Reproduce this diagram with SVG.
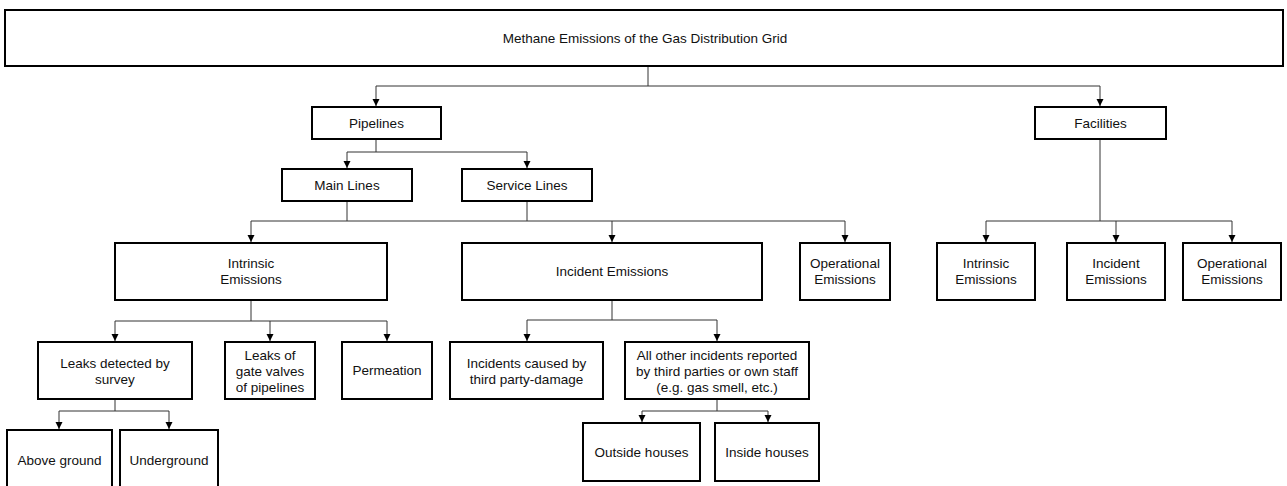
<svg xmlns="http://www.w3.org/2000/svg" width="1287" height="486" viewBox="0 0 1287 486">
<style>
.box{fill:#fff;stroke:#000;stroke-width:2}
.t{font-family:"Liberation Sans",Arial,sans-serif;font-size:13.5px;fill:#111;text-anchor:middle}
.c{fill:none;stroke:#333;stroke-width:1}
.a{fill:none;stroke:#333;stroke-width:1;marker-end:url(#arr)}
</style>
<defs>
<marker id="arr" markerUnits="userSpaceOnUse" markerWidth="8" markerHeight="8" refX="7" refY="3.5" orient="auto">
<path d="M0,0 L7,3.5 L0,7 z" fill="#000"/>
</marker>
</defs>
<rect width="1287" height="486" fill="#fff"/>
<g id="connectors">
<path class="c" d="M648,66 V86 M376,86 H1100"/>
<path class="a" d="M376,86 V106"/>
<path class="a" d="M1100,86 V106"/>
<path class="c" d="M376,139 V152 M347,152 H527"/>
<path class="a" d="M347,152 V168"/>
<path class="a" d="M527,152 V168"/>
<path class="c" d="M347,201 V221 M527,201 V221 M251,221 H845"/>
<path class="a" d="M251,221 V242"/>
<path class="a" d="M612,221 V242"/>
<path class="a" d="M845,221 V242"/>
<path class="c" d="M1100,139 V221 M986,221 H1232"/>
<path class="a" d="M986,221 V242"/>
<path class="a" d="M1116,221 V242"/>
<path class="a" d="M1232,221 V242"/>
<path class="c" d="M251,300 V321 M115,321 H387"/>
<path class="a" d="M115,321 V341"/>
<path class="a" d="M270,321 V341"/>
<path class="a" d="M387,321 V341"/>
<path class="c" d="M612,300 V320 M527,320 H717"/>
<path class="a" d="M527,320 V341"/>
<path class="a" d="M717,320 V341"/>
<path class="c" d="M115,399 V411 M59,411 H169"/>
<path class="a" d="M59,411 V429"/>
<path class="a" d="M169,411 V429"/>
<path class="c" d="M717,399 V411 M642,411 H768"/>
<path class="a" d="M642,411 V422"/>
<path class="a" d="M768,411 V422"/>
</g>
<g id="root"><rect class="box" x="5" y="10" width="1278" height="56"/><text class="t" x="645" y="43">Methane Emissions of the Gas Distribution Grid</text></g>
<g id="pipelines"><rect class="box" x="312" y="107" width="129" height="32"/><text class="t" x="376.5" y="128">Pipelines</text></g>
<g id="facilities"><rect class="box" x="1035" y="107" width="131" height="32"/><text class="t" x="1100.5" y="128">Facilities</text></g>
<g id="mainlines"><rect class="box" x="282" y="169" width="130" height="32"/><text class="t" x="347" y="190">Main Lines</text></g>
<g id="servicelines"><rect class="box" x="462" y="169" width="130" height="32"/><text class="t" x="527" y="190">Service Lines</text></g>
<g id="intrinsic"><rect class="box" x="115" y="243" width="272" height="57"/><text class="t" x="251" y="267.5">Intrinsic</text><text class="t" x="251" y="284">Emissions</text></g>
<g id="incident"><rect class="box" x="462" y="243" width="300" height="57"/><text class="t" x="612" y="276">Incident Emissions</text></g>
<g id="operational"><rect class="box" x="800" y="243" width="90" height="57"/><text class="t" x="845" y="267.5">Operational</text><text class="t" x="845" y="284">Emissions</text></g>
<g id="fac-intrinsic"><rect class="box" x="937" y="243" width="98" height="57"/><text class="t" x="986" y="267.5">Intrinsic</text><text class="t" x="986" y="284">Emissions</text></g>
<g id="fac-incident"><rect class="box" x="1067" y="243" width="98" height="57"/><text class="t" x="1116" y="267.5">Incident</text><text class="t" x="1116" y="284">Emissions</text></g>
<g id="fac-operational"><rect class="box" x="1183" y="243" width="98" height="57"/><text class="t" x="1232" y="267.5">Operational</text><text class="t" x="1232" y="284">Emissions</text></g>
<g id="leaks-survey"><rect class="box" x="38" y="342" width="154" height="57"/><text class="t" x="115" y="367.5">Leaks detected by</text><text class="t" x="115" y="383.5">survey</text></g>
<g id="leaks-valves"><rect class="box" x="225" y="342" width="90" height="57"/><text class="t" x="270" y="359.5">Leaks of</text><text class="t" x="270" y="375.5">gate valves</text><text class="t" x="270" y="391.5">of pipelines</text></g>
<g id="permeation"><rect class="box" x="342" y="342" width="90" height="57"/><text class="t" x="387" y="375">Permeation</text></g>
<g id="third-party"><rect class="box" x="450" y="342" width="153" height="57"/><text class="t" x="526.5" y="367.5">Incidents caused by</text><text class="t" x="526.5" y="383.5">third party-damage</text></g>
<g id="all-other"><rect class="box" x="625" y="342" width="184" height="57"/><text class="t" x="717" y="359.5">All other incidents reported</text><text class="t" x="717" y="375.5">by third parties or own staff</text><text class="t" x="717" y="391.5">(e.g. gas smell, etc.)</text></g>
<g id="above-ground"><rect class="box" x="7" y="430" width="105" height="62"/><text class="t" x="59.5" y="465">Above ground</text></g>
<g id="underground"><rect class="box" x="120" y="430" width="98" height="62"/><text class="t" x="169" y="465">Underground</text></g>
<g id="outside-houses"><rect class="box" x="583" y="423" width="117" height="58"/><text class="t" x="641.5" y="457">Outside houses</text></g>
<g id="inside-houses"><rect class="box" x="715" y="423" width="104" height="58"/><text class="t" x="767" y="457">Inside houses</text></g>
</svg>
